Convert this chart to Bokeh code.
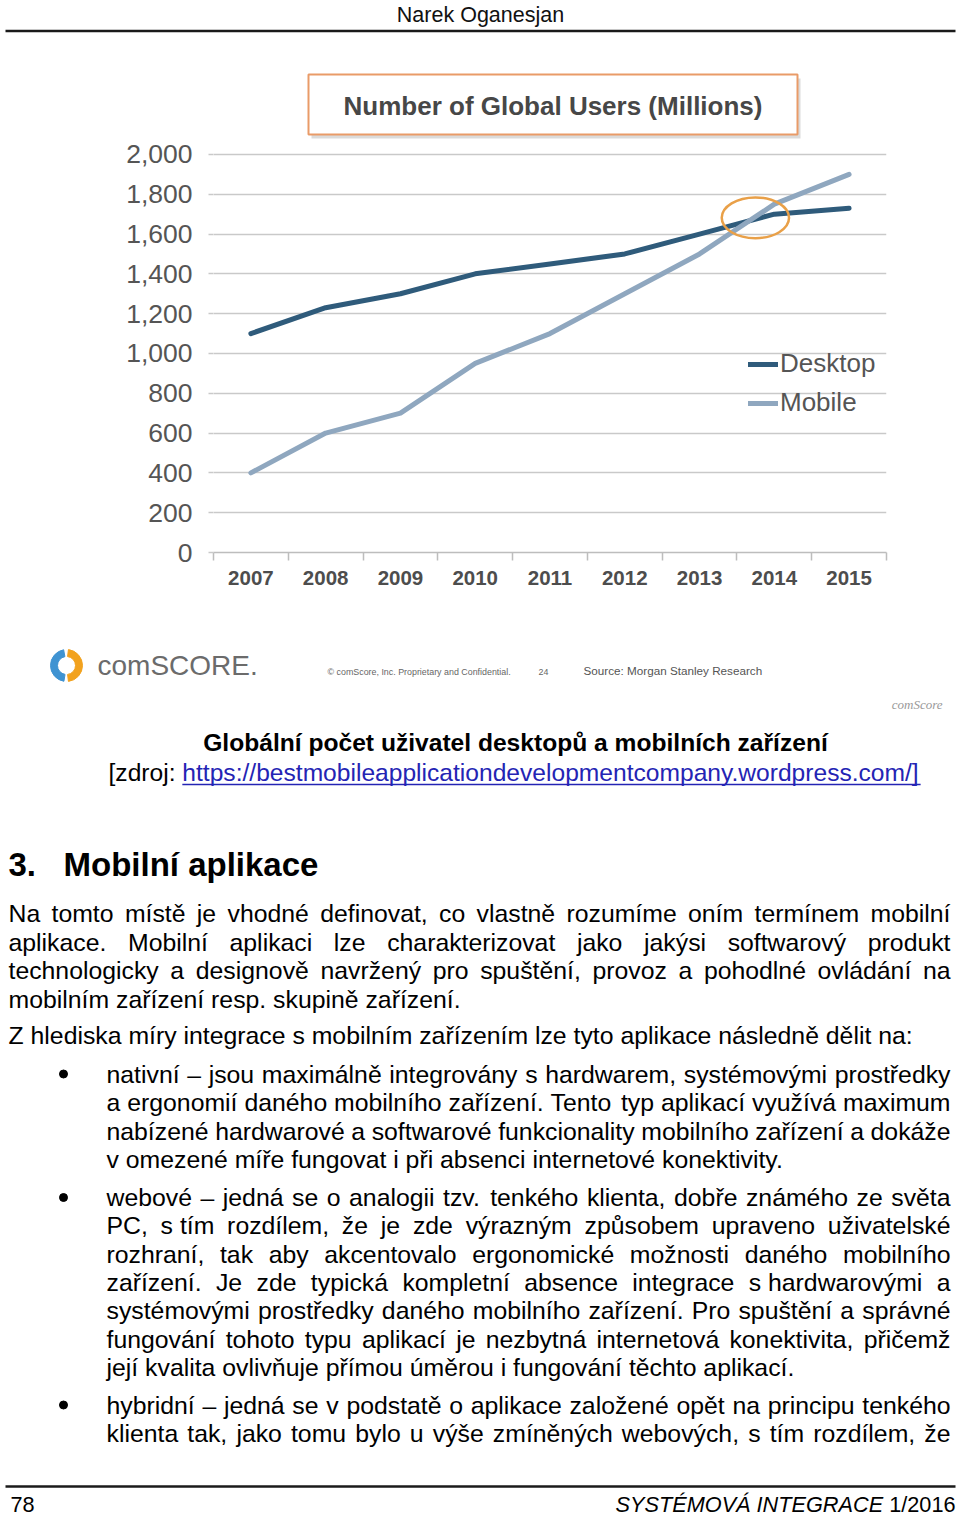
import unicodedata
from bokeh.plotting import figure
from bokeh.models import (Range1d, FixedTicker, NumeralTickFormatter, Legend,
                          LegendItem, ColumnDataSource)
from bokeh.layouts import column
from bokeh.core.properties import value
from bokeh.embed import file_html
from bokeh.resources import INLINE

# ---------------- data ----------------
years = [2007, 2008, 2009, 2010, 2011, 2012, 2013, 2014, 2015]
x_labels = ["2007", "2008", "2009", "2010", "2011", "2012", "2013", "2014", "2015"]
desktop = [1100, 1230, 1300, 1400, 1450, 1500, 1600, 1700, 1730]
mobile = [400, 600, 700, 950, 1100, 1300, 1500, 1750, 1900]
y_ticks = [0, 200, 400, 600, 800, 1000, 1200, 1400, 1600, 1800, 2000]
series_names = ["Desktop", "Mobile"]
chart_title = "Number of Global Users (Millions)"

page_header = "Narek Oganesjan"
caption = "Globální počet uživatel desktopů a mobilních zařízení"
source_prefix = "[zdroj: "
source_url = "https://bestmobileapplicationdevelopmentcompany.wordpress.com/]"
heading_num = "3."
heading_text = "Mobilní aplikace"
intro_lines = [
    "Na tomto místě je vhodné definovat, co vlastně rozumíme oním termínem mobilní",
    "aplikace. Mobilní aplikaci lze charakterizovat jako jakýsi softwarový produkt",
    "technologicky a designově navržený pro spuštění, provoz a pohodlné ovládání na",
    "mobilním zařízení resp. skupině zařízení.",
]
lead_line = "Z hlediska míry integrace s mobilním zařízením lze tyto aplikace následně dělit na:"
bullet1 = [
    "nativní – jsou maximálně integrovány s hardwarem, systémovými prostředky",
    "a ergonomií daného mobilního zařízení. Tento typ aplikací využívá maximum",
    "nabízené hardwarové a softwarové funkcionality mobilního zařízení a dokáže",
    "v omezené míře fungovat i při absenci internetové konektivity.",
]
bullet2 = [
    "webové – jedná se o analogii tzv. tenkého klienta, dobře známého ze světa",
    "PC, s\u00a0tím rozdílem, že je zde výrazným způsobem upraveno uživatelské",
    "rozhraní, tak aby akcentovalo ergonomické možnosti daného mobilního",
    "zařízení. Je zde typická kompletní absence integrace s\u00a0hardwarovými a",
    "systémovými prostředky daného mobilního zařízení. Pro spuštění a správné",
    "fungování tohoto typu aplikací je nezbytná internetová konektivita, přičemž",
    "její kvalita ovlivňuje přímou úměrou i fungování těchto aplikací.",
]
bullet3 = [
    "hybridní – jedná se v podstatě o aplikace založené opět na principu tenkého",
    "klienta tak, jako tomu bylo u výše zmíněných webových, s tím rozdílem, že",
]
footer_page = "78"
footer_journal = "SYSTÉMOVÁ INTEGRACE"
footer_issue = "1/2016"

# ---------------- text metrics (Arial / Liberation Sans) ----------------
AW = {' ': 278, '\u00a0': 278, '!': 278, ',': 278, '-': 333, '.': 278, '/': 278,
      ':': 278, ';': 278, '[': 278, ']': 278, '(': 333, ')': 333, '–': 556,
      'A': 667, 'B': 667, 'C': 722, 'D': 722, 'E': 667, 'F': 611, 'G': 778,
      'H': 722, 'I': 278, 'J': 500, 'K': 667, 'L': 556, 'M': 833, 'N': 722,
      'O': 778, 'P': 667, 'Q': 778, 'R': 722, 'S': 667, 'T': 611, 'U': 722,
      'V': 667, 'W': 944, 'X': 667, 'Y': 667, 'Z': 611,
      'a': 556, 'b': 556, 'c': 500, 'd': 556, 'e': 556, 'f': 278, 'g': 556,
      'h': 556, 'i': 222, 'j': 222, 'k': 500, 'l': 222, 'm': 833, 'n': 556,
      'o': 556, 'p': 556, 'q': 556, 'r': 333, 's': 500, 't': 278, 'u': 556,
      'v': 500, 'w': 722, 'x': 500, 'y': 500, 'z': 500, 'í': 278}
for d in "0123456789":
    AW[d] = 556


def tw(s, fs):
    tot = 0
    for ch in s:
        if ch in AW:
            tot += AW[ch]
        else:
            tot += AW.get(unicodedata.normalize("NFD", ch)[0], 556)
    return tot * fs / 1000.0


FONT = "Liberation Sans"
FV = value(FONT)
BODY_FS = 24.8
PAGE_W = 960


def page_fig(h, top, bottom):
    p = figure(width=PAGE_W, height=h, x_range=Range1d(0, PAGE_W),
               y_range=Range1d(bottom, top), output_backend="svg",
               toolbar_location=None, x_axis_type=None, y_axis_type=None,
               title=None, min_border_left=0, min_border_right=0,
               min_border_top=0, min_border_bottom=0)
    p.outline_line_color = None
    p.background_fill_color = "white"
    p.border_fill_color = "white"
    return p


# ---------------- top: page header + chart title ----------------
p1 = page_fig(140, 0, 140)
p1.text(x=[480], y=[14], text=[page_header], text_font=FV, text_font_size="21.5px",
        text_align="center", text_baseline="middle", text_color="#111111")
p1.line(x=[5, 955], y=[30.5, 30.5], line_width=2.6, line_color="#1a1a1a")
p1.quad(left=[311], right=[800], top=[78], bottom=[138], fill_color="#bdbdbd",
        fill_alpha=0.55, line_color=None)
p1.quad(left=[308], right=[797], top=[74], bottom=[134], fill_color="white",
        line_color="#e99b68", line_width=2)
p1.text(x=[552.5], y=[105], text=[chart_title], text_font=FV, text_font_size="26px",
        text_font_style="bold", text_align="center", text_baseline="middle",
        text_color="#474747")

# ---------------- chart ----------------
pc = figure(width=PAGE_W, height=460, x_range=Range1d(2006.5, 2015.5),
            y_range=Range1d(0, 2070), output_backend="svg", toolbar_location=None,
            title=None, min_border_left=213, min_border_right=74,
            min_border_top=0, min_border_bottom=48)
pc.outline_line_color = None
pc.xgrid.visible = False
pc.ygrid.ticker = FixedTicker(ticks=y_ticks)
pc.ygrid.grid_line_color = "#c9c9c9"
pc.ygrid.grid_line_width = 1.5

ya = pc.yaxis[0]
ya.ticker = FixedTicker(ticks=y_ticks)
ya.formatter = NumeralTickFormatter(format="0,0")
ya.axis_line_color = None
ya.major_tick_line_color = "#c9c9c9"
ya.major_tick_line_width = 1.5
ya.major_tick_out = 5
ya.major_tick_in = 0
ya.minor_tick_line_color = None
ya.major_label_standoff = 16
ya.major_label_text_font = FONT
ya.major_label_text_font_size = "26.5px"
ya.major_label_text_color = "#555555"

xa = pc.xaxis[0]
xa.ticker = FixedTicker(ticks=years, minor_ticks=[y - 0.5 for y in years] + [years[-1] + 0.5])
xa.major_label_overrides = {y: l for y, l in zip(years, x_labels)}
xa.axis_line_color = "#bdbdbd"
xa.axis_line_width = 1.5
xa.major_tick_line_color = None
xa.minor_tick_line_color = "#bdbdbd"
xa.minor_tick_line_width = 1.5
xa.minor_tick_out = 8
xa.minor_tick_in = 0
xa.major_label_standoff = 10
xa.major_label_text_font = FONT
xa.major_label_text_font_size = "20.5px"
xa.major_label_text_font_style = "bold"
xa.major_label_text_color = "#4d4d4d"

src = ColumnDataSource(dict(year=years, desktop=desktop, mobile=mobile))
r_d = pc.line("year", "desktop", source=src, line_color="#2f5b7b", line_width=5,
              line_join="round", line_cap="round")
r_m = pc.line("year", "mobile", source=src, line_color="#8fa7bf", line_width=5,
              line_join="round", line_cap="round")

# highlight the point where mobile overtakes desktop
cx, cy = None, None
for i in range(len(years) - 1):
    d0 = desktop[i] - mobile[i]
    d1 = desktop[i + 1] - mobile[i + 1]
    if d0 > 0 and d1 <= 0:
        t = d0 / (d0 - d1)
        cx = years[i] + t
        cy = desktop[i] + t * (desktop[i + 1] - desktop[i])
pc.ellipse(x=[cx + 0.08], y=[cy + 15], width=0.9, height=205, fill_color=None,
           line_color="#e9a048", line_width=2.5)

legend = Legend(items=[LegendItem(label=series_names[0], renderers=[r_d]),
                       LegendItem(label=series_names[1], renderers=[r_m])],
                location=(535, 134), orientation="vertical",
                label_text_font=FONT, label_text_font_size="26px",
                label_text_color="#555555", glyph_width=30, glyph_height=30,
                label_height=30, label_standoff=2, spacing=8, padding=0, margin=0,
                border_line_color=None, background_fill_alpha=0)
pc.add_layout(legend)

# ---------------- bottom: slide footer, caption, body text ----------------
p3 = page_fig(919, 600, 1519)
p3.annular_wedge(x=[66], y=[665], inner_radius=9, outer_radius=16,
                 start_angle=[1.75], end_angle=[4.55], color="#3f93d2")
p3.annular_wedge(x=[66], y=[665], inner_radius=9, outer_radius=16,
                 start_angle=[-1.45], end_angle=[1.45], color="#f2a21e")
p3.text(x=[97], y=[665], text=["comSCORE."], text_font=FV, text_font_size="28px",
        text_baseline="middle", text_color="#6b6b6b")
p3.text(x=[327, 538], y=[671, 671], text=["© comScore, Inc.  Proprietary and Confidential.", "24"],
        text_font=FV, text_font_size="8.9px", text_baseline="middle", text_color="#666666")
p3.text(x=[583], y=[670], text=["Source: Morgan Stanley Research"], text_font=FV,
        text_font_size="11.7px", text_baseline="middle", text_color="#555555")
p3.text(x=[942], y=[704], text=["comScore"], text_font=value("Liberation Serif"),
        text_font_size="13px", text_font_style="italic", text_align="right",
        text_baseline="middle", text_color="#9a9a9a")

CAP_FS = 24.6
p3.text(x=[515], y=[742], text=[caption], text_font=FV, text_font_size=f"{CAP_FS}px",
        text_font_style="bold", text_align="center", text_baseline="middle",
        text_color="#000000")
ux0 = 108 + tw(source_prefix, CAP_FS)
ux1 = ux0 + tw(source_url, CAP_FS)
p3.text(x=[108], y=[772], text=[source_prefix], text_font=FV, text_font_size=f"{CAP_FS}px",
        text_baseline="middle", text_color="#000000")
p3.text(x=[ux0], y=[772], text=[source_url], text_font=FV, text_font_size=f"{CAP_FS}px",
        text_baseline="middle", text_color="#2424b4")
p3.line(x=[ux0, ux1], y=[784, 784], line_color="#2424b4", line_width=1.5)

p3.text(x=[8, 63], y=[864, 864], text=[heading_num, heading_text], text_font=FV,
        text_font_size="33px", text_font_style="bold", text_baseline="middle",
        text_color="#000000")

WX, WY, WT = [], [], []


def set_line(text, x0, x1, y, justify, fs=BODY_FS):
    words = text.split(" ")
    widths = [tw(w, fs) for w in words]
    if justify and len(words) > 1:
        gap = (x1 - x0 - sum(widths)) / (len(words) - 1)
    else:
        gap = tw(" ", fs)
    x = x0
    for w, wd in zip(words, widths):
        WX.append(x)
        WY.append(y)
        WT.append(w)
        x += wd + gap


def set_par(lines, ys, x0, x1, last_justified=False):
    for k, (ln, yy) in enumerate(zip(lines, ys)):
        just = (k < len(lines) - 1) or last_justified
        set_line(ln, x0, x1, yy, just)


set_par(intro_lines, [913, 941.5, 970, 998.5], 8, 950)
set_par([lead_line], [1035], 8, 950)
set_par(bullet1, [1073.5, 1102, 1130.5, 1159], 106, 950)
set_par(bullet2, [1197, 1225, 1253.5, 1282, 1310, 1338.5, 1367], 106, 950)
set_par(bullet3, [1404.5, 1433], 106, 950, last_justified=True)

p3.text(x="x", y="y", text="t", source=ColumnDataSource(dict(x=WX, y=WY, t=WT)),
        text_font=FV, text_font_size=f"{BODY_FS}px", text_baseline="middle",
        text_color="#000000")
p3.scatter(x=[63, 63, 63], y=[1073.5, 1197, 1404.5], size=8, marker="circle",
           color="#000000")

p3.line(x=[5, 955], y=[1486, 1486], line_width=2.6, line_color="#1a1a1a")
FT_FS = 21.7
p3.text(x=[10], y=[1504], text=[footer_page], text_font=FV, text_font_size=f"{FT_FS}px",
        text_baseline="middle", text_color="#000000")
x_issue = 955 - tw(footer_issue, FT_FS)
p3.text(x=[955], y=[1504], text=[footer_issue], text_font=FV, text_font_size=f"{FT_FS}px",
        text_align="right", text_baseline="middle", text_color="#000000")
p3.text(x=[x_issue - tw(" ", FT_FS)], y=[1504], text=[footer_journal], text_font=FV,
        text_font_size=f"{FT_FS}px", text_font_style="italic", text_align="right",
        text_baseline="middle", text_color="#000000")

layout = column(p1, column(pc), p3, spacing=0)
open("out.html", "w").write(file_html(layout, INLINE))
